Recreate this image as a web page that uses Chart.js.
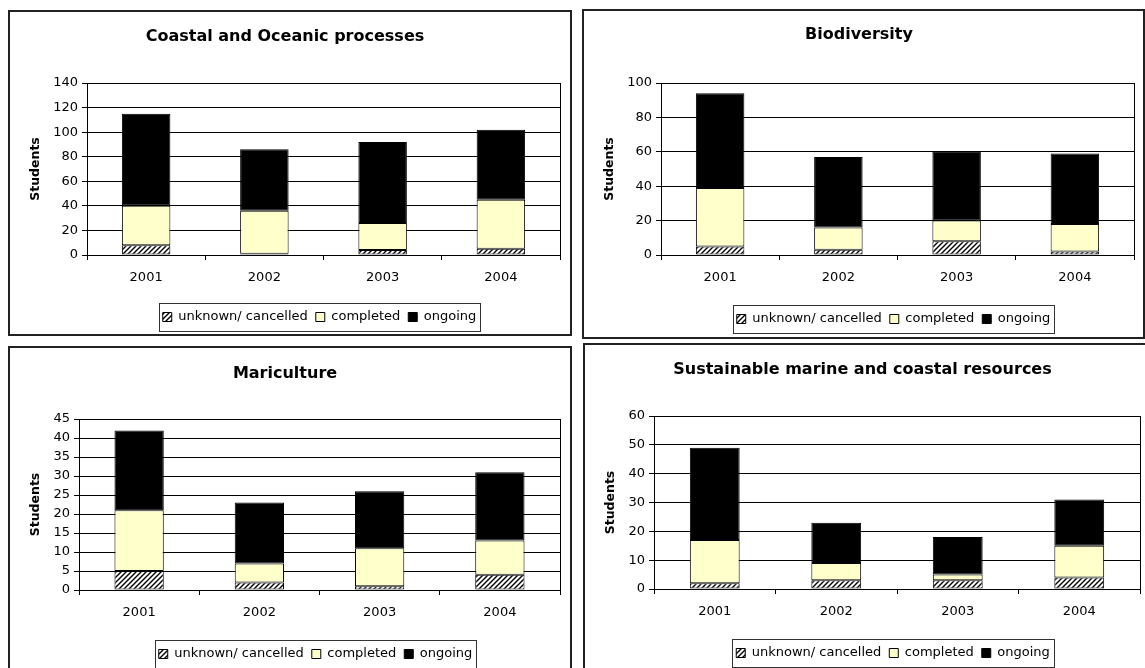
<!DOCTYPE html>
<html>
<head>
<meta charset="utf-8">
<script src="https://cdn.jsdelivr.net/npm/chart.js@4.4.1/dist/chart.umd.min.js"></script>
<style>
  body { margin: 0; background: #fff; width: 1145px; height: 668px; overflow: hidden; position: relative; }
  .panel { position: absolute; border: 2px solid #222; background: #fff; }
  .panel canvas { display: block; }
</style>
</head>
<body>
<div class="panel" style="left:8px;top:10px;"><canvas id="c1" width="560" height="322"></canvas></div>
<div class="panel" style="left:582px;top:9px;"><canvas id="c2" width="559" height="326"></canvas></div>
<div class="panel" style="left:8px;top:346px;"><canvas id="c3" width="560" height="326"></canvas></div>
<div class="panel" style="left:583px;top:343px;"><canvas id="c4" width="566" height="326"></canvas></div>

<script>
// data
const years = ['2001', '2002', '2003', '2004'];
const seriesNames = ['unknown/ cancelled', 'completed', 'ongoing'];

const coastalUnknown = [8, 1, 4, 5];
const coastalCompleted = [32, 35, 22, 40];
const coastalOngoing = [75, 50, 66, 57];

const bioUnknown = [5, 3, 8, 2];
const bioCompleted = [34, 13, 12, 16];
const bioOngoing = [55, 41, 40, 41];

const mariUnknown = [5, 2, 1, 4];
const mariCompleted = [16, 5, 10, 9];
const mariOngoing = [21, 16, 15, 18];

const sustUnknown = [2, 3, 3, 4];
const sustCompleted = [15, 6, 2, 11];
const sustOngoing = [32, 14, 13, 16];

Chart.defaults.font.family = '"DejaVu Sans", "Liberation Sans", Arial, sans-serif';
Chart.defaults.color = '#000';

// diagonal hatch for the unknown series
function makeHatch() {
  const c = document.createElement('canvas');
  c.width = 5; c.height = 5;
  const g = c.getContext('2d');
  g.fillStyle = '#fff';
  g.fillRect(0, 0, 5, 5);
  g.strokeStyle = '#000';
  g.lineWidth = 1.4;
  g.beginPath();
  g.moveTo(-1, 6); g.lineTo(6, -1);
  g.moveTo(-1, 1); g.lineTo(1, -1);
  g.moveTo(4, 6); g.lineTo(6, 4);
  g.stroke();
  return g.createPattern(c, 'repeat');
}
const hatch = makeHatch();

// plot frame, legend centred under the plot, box round the legend
const framePlugin = {
  id: 'frame',
  afterLayout(chart) {
    const lg = chart.legend, a = chart.chartArea;
    const shift = (a.left + a.right) / 2 - (lg.left + lg.right) / 2 - 4;
    lg.left += shift;
    lg.right += shift;
  },
  afterDraw(chart) {
    const ctx = chart.ctx, a = chart.chartArea;
    ctx.save();
    ctx.strokeStyle = '#000';
    ctx.lineWidth = 1;
    ctx.strokeRect(Math.round(a.left) + 0.5, Math.round(a.top) + 0.5,
      Math.round(a.right - a.left), Math.round(a.bottom - a.top));
    const hb = chart.legend.legendHitBoxes;
    if (hb && hb.length) {
      const first = hb[0], last = hb[hb.length - 1];
      const x1 = Math.round(first.left - 4) + 0.5;
      const x2 = Math.round(last.left + last.width + 4) + 0.5;
      const y1 = Math.round(first.top - 8) + 0.5;
      const y2 = Math.round(first.top + first.height + 7) + 0.5;
      ctx.strokeStyle = '#333';
      ctx.strokeRect(x1, y1, x2 - x1, y2 - y1);
    }
    ctx.restore();
  }
};

const TITLE_SIZE = 16, LEGEND_SIZE = 13, LEGEND_PAD = 8;

function makeChart(p) {
  const H = document.getElementById(p.id).height;
  const tLine = TITLE_SIZE * 1.2;
  const legendH = LEGEND_SIZE + LEGEND_PAD + 10;
  const legendTop = p.legendY - LEGEND_PAD - LEGEND_SIZE / 2;
  const xHeight = legendTop - p.bottom;

  new Chart(document.getElementById(p.id), {
    type: 'bar',
    data: {
      labels: years,
      datasets: [
        { label: seriesNames[0], data: p.unknown, backgroundColor: hatch, borderColor: '#000', borderWidth: 1, borderSkipped: false },
        { label: seriesNames[1], data: p.completed, backgroundColor: '#FFFFCC', borderColor: '#000', borderWidth: 1, borderSkipped: false },
        { label: seriesNames[2], data: p.ongoing, backgroundColor: '#000', borderColor: '#000', borderWidth: 1, borderSkipped: false }
      ]
    },
    options: {
      responsive: false,
      animation: false,
      events: [],
      categoryPercentage: 1,
      barPercentage: 0.41,
      layout: { padding: { left: 0, right: p.right, top: 0, bottom: H - legendTop - legendH } },
      plugins: {
        tooltip: { enabled: false },
        title: {
          display: true,
          text: p.title,
          font: { size: TITLE_SIZE, weight: 'bold' },
          padding: { top: p.titleY - tLine / 2, bottom: p.top - p.titleY - tLine / 2 }
        },
        legend: {
          position: 'bottom',
          labels: {
            boxWidth: 9,
            boxHeight: 9,
            padding: LEGEND_PAD,
            font: { size: LEGEND_SIZE }
          }
        }
      },
      scales: {
        x: {
          stacked: true,
          afterFit: s => { s.height = xHeight; },
          grid: { drawOnChartArea: false, drawTicks: true, tickLength: 5, color: '#000' },
          border: { color: '#000' },
          ticks: { padding: 10, font: { size: 13 } }
        },
        y: {
          stacked: true,
          min: 0,
          max: p.max,
          afterFit: s => { s.width = p.left; },
          grid: { color: '#000', tickLength: 5 },
          border: { color: '#000' },
          ticks: { stepSize: p.step, padding: 4, font: { size: 13 } },
          title: {
            display: true,
            text: 'Students',
            font: { size: 12.5, weight: 'bold' },
            padding: { top: 18, bottom: 0 }
          }
        }
      }
    },
    plugins: [framePlugin]
  });
}

makeChart({ id: 'c1', title: 'Coastal and Oceanic processes', unknown: coastalUnknown, completed: coastalCompleted, ongoing: coastalOngoing,
  max: 140, step: 20, left: 77, top: 71, bottom: 243, right: 10, titleY: 25, legendY: 305 });
makeChart({ id: 'c2', title: 'Biodiversity', unknown: bioUnknown, completed: bioCompleted, ongoing: bioOngoing,
  max: 100, step: 20, left: 77, top: 72, bottom: 244, right: 9, titleY: 24, legendY: 308 });
makeChart({ id: 'c3', title: 'Mariculture', unknown: mariUnknown, completed: mariCompleted, ongoing: mariOngoing,
  max: 45, step: 5, left: 69, top: 71, bottom: 242, right: 10, titleY: 25.5, legendY: 306 });
makeChart({ id: 'c4', title: 'Sustainable marine and coastal resources', unknown: sustUnknown, completed: sustCompleted, ongoing: sustOngoing,
  max: 60, step: 10, left: 69, top: 71, bottom: 244, right: 11, titleY: 25, legendY: 308 });
</script>
</body>
</html>
